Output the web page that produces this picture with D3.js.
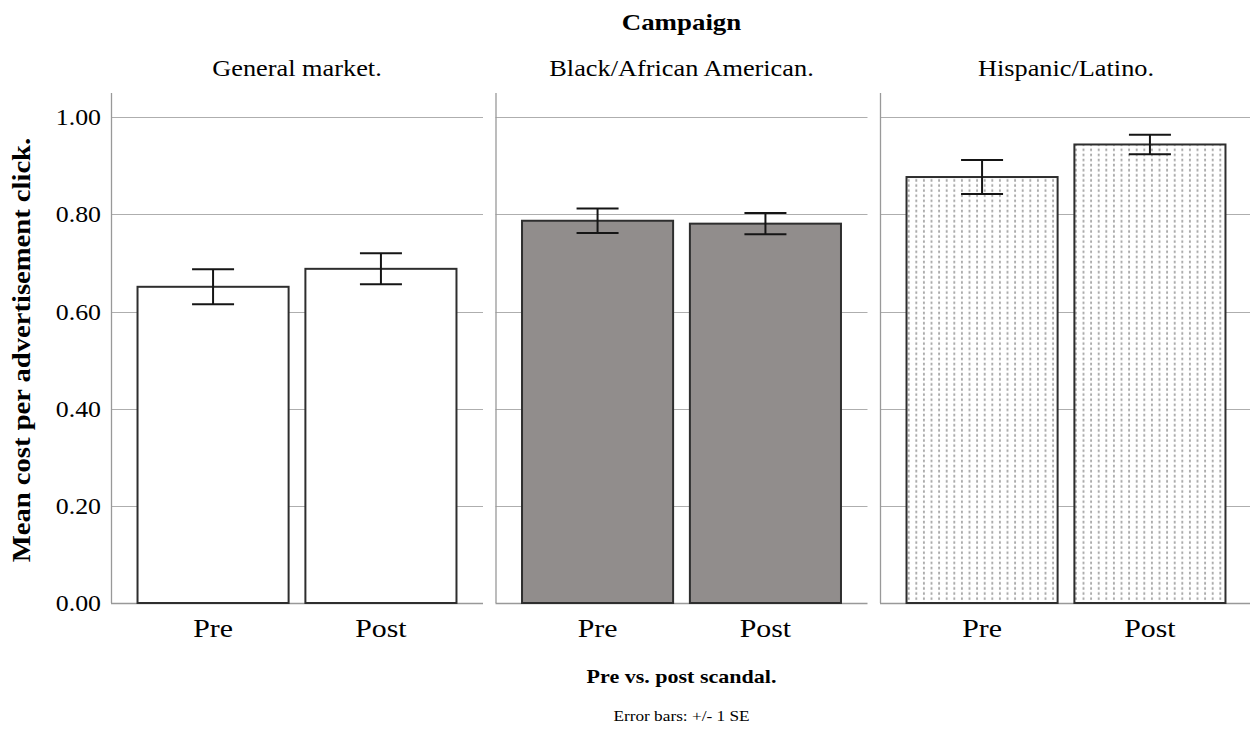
<!DOCTYPE html>
<html>
<head>
<meta charset="utf-8">
<script src="https://cdn.jsdelivr.net/npm/d3@7"></script>
<style>
  body { margin: 0; background: #fff; }
  svg { display: block; }
  text { font-family: "Liberation Serif", "Times New Roman", serif; fill: #000; }
</style>
</head>
<body>
<svg id="chart" width="1250" height="733"></svg>
<script>
// Campaign panels and the two periods shown in each
const campaigns = ["General market.", "Black/African American.", "Hispanic/Latino."];
const periods = ["Pre", "Post"];

// Mean cost per click, one row per campaign: [Pre, Post]
const generalMarket = [0.651, 0.688];
const blackAfricanAmerican = [0.787, 0.781];
const hispanicLatino = [0.877, 0.944];

// Standard errors for the same cells
const generalMarketSE = [0.036, 0.032];
const blackAfricanAmericanSE = [0.025, 0.022];
const hispanicLatinoSE = [0.035, 0.020];

const yTicks = [0, 0.2, 0.4, 0.6, 0.8, 1.0];

const means = [generalMarket, blackAfricanAmerican, hispanicLatino];
const ses = [generalMarketSE, blackAfricanAmericanSE, hispanicLatinoSE];

const cells = [];
campaigns.forEach((c, i) => periods.forEach((p, j) => {
  cells.push({ campaign: c, period: p, mean: means[i][j], se: ses[i][j], idx: i });
}));

// Look & layout
const plot = { left: 111, right: 1252, top: 93, bottom: 603 };
const stretch = 1.2;
const fills = ["#ffffff", "#918d8c", "url(#dots)"];

const svg = d3.select("#chart");

// dotted vertical texture for the third campaign
const defs = svg.append("defs");
const pat = defs.append("pattern")
  .attr("id", "dots")
  .attr("patternUnits", "userSpaceOnUse")
  .attr("width", 7.6).attr("height", 5.1)
  .attr("x", 0.5).attr("y", 0);
pat.append("rect").attr("width", 7.6).attr("height", 5.1).attr("fill", "#fff");
pat.append("line")
  .attr("x1", 3.8).attr("x2", 3.8).attr("y1", 0.6).attr("y2", 3.1)
  .attr("stroke", "#7a7a7a").attr("stroke-width", 1.2);

const panelX = d3.scaleBand().domain(campaigns)
  .range([plot.left, plot.right]).paddingInner(0.0325).paddingOuter(0);
const pw = panelX.bandwidth();

const barX = d3.scaleBand().domain(periods)
  .range([0, pw]).paddingInner(0.1).paddingOuter(0.158);

const y = d3.scaleLinear().domain([0, 1.05]).range([plot.bottom, plot.top]);

// stretched text helper
function label(g, x, yy, txt, opts) {
  const sx = opts.sx == null ? stretch : opts.sx;
  const rot = opts.rotate ? ` rotate(${opts.rotate})` : "";
  return g.append("text")
    .attr("transform", `translate(${x},${yy})${rot} scale(${sx},1)`)
    .attr("text-anchor", opts.anchor || "middle")
    .attr("font-size", opts.size)
    .attr("font-weight", opts.bold ? "bold" : "normal")
    .text(txt);
}

// panels
const panels = svg.selectAll("g.panel").data(campaigns).join("g")
  .attr("class", "panel")
  .attr("transform", d => `translate(${panelX(d)},0)`);

// gridlines, left frame line and baseline of each panel
panels.each(function () {
  const g = d3.select(this);
  g.selectAll("line.grid").data(yTicks.filter(t => t > 0)).join("line")
    .attr("class", "grid")
    .attr("x1", 0).attr("x2", pw)
    .attr("y1", d => Math.round(y(d)) + 0.5).attr("y2", d => Math.round(y(d)) + 0.5)
    .attr("stroke", "#aeaeae").attr("stroke-width", 1);
  g.append("line")
    .attr("x1", 0.5).attr("x2", 0.5)
    .attr("y1", plot.top).attr("y2", plot.bottom)
    .attr("stroke", "#999").attr("stroke-width", 1.3);
  g.append("line")
    .attr("x1", 0).attr("x2", pw)
    .attr("y1", plot.bottom + 0.5).attr("y2", plot.bottom + 0.5)
    .attr("stroke", "#999").attr("stroke-width", 1.3);
});

// bars
const barG = svg.append("g");
barG.selectAll("rect.bar").data(cells).join("rect")
  .attr("class", "bar")
  .attr("x", d => panelX(d.campaign) + barX(d.period))
  .attr("width", barX.bandwidth())
  .attr("y", d => y(d.mean))
  .attr("height", d => y(0) - y(d.mean))
  .attr("fill", d => fills[d.idx])
  .attr("stroke", "#2e2e2e")
  .attr("stroke-width", 2);

// error bars (+/- 1 SE)
const capW = 42;
const errG = barG.selectAll("g.err").data(cells).join("g")
  .attr("class", "err")
  .attr("transform", d => `translate(${panelX(d.campaign) + barX(d.period) + barX.bandwidth() / 2},0)`)
  .attr("stroke", "#151515").attr("stroke-width", 2);
errG.append("line")
  .attr("x1", 0).attr("x2", 0)
  .attr("y1", d => y(d.mean + d.se)).attr("y2", d => y(d.mean - d.se));
errG.append("line")
  .attr("x1", -capW / 2).attr("x2", capW / 2)
  .attr("y1", d => y(d.mean + d.se)).attr("y2", d => y(d.mean + d.se));
errG.append("line")
  .attr("x1", -capW / 2).attr("x2", capW / 2)
  .attr("y1", d => y(d.mean - d.se)).attr("y2", d => y(d.mean - d.se));

// y axis tick labels
const yAxisG = svg.append("g");
yTicks.forEach(t => {
  label(yAxisG, 101, y(t) + 8, d3.format(".2f")(t), { size: 22.5, anchor: "end", sx: 1.15 });
});

// x tick labels
cells.forEach(d => {
  label(svg, panelX(d.campaign) + barX(d.period) + barX.bandwidth() / 2, 637, d.period, { size: 25.5, sx: 1.17 });
});

// panel titles
campaigns.forEach(c => {
  label(svg, panelX(c) + pw / 2, 76, c, { size: 22.5, sx: 1.17 });
});

// overall titles
const midX = (plot.left + plot.right) / 2;
label(svg, midX, 30, "Campaign", { size: 24, bold: true, sx: 1.12 });
label(svg, midX, 683, "Pre vs. post scandal.", { size: 19.5, bold: true, sx: 1.13 });
label(svg, midX, 721, "Error bars: +/- 1 SE", { size: 15, sx: 1.15 });
label(svg, 30, (plot.top + plot.bottom) / 2 + 2, "Mean cost per advertisement click.",
  { size: 26, bold: true, rotate: -90, sx: 1.1 });
</script>
</body>
</html>
